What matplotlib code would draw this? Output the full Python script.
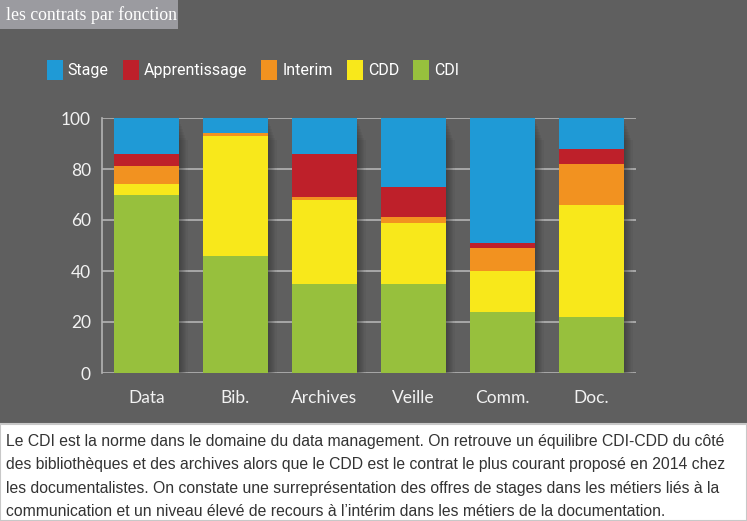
import matplotlib
matplotlib.use("Agg")
import matplotlib.pyplot as plt
from matplotlib.patches import Rectangle, Patch
import numpy as np

# Data (in %)
categories = ["Data", "Bib.", "Archives", "Veille", "Comm.", "Doc."]
series_names = ["Stage", "Apprentissage", "Interim", "CDD", "CDI"]
cdi = [70, 46, 35, 35, 24, 22]
cdd = [4, 47, 33, 24, 16, 44]
interim = [7, 1, 1, 2, 9, 16]
apprentissage = [5, 0, 17, 12, 2, 6]
stage = [14, 6, 14, 27, 49, 12]
yticks = [0, 20, 40, 60, 80, 100]

title = "les contrats par fonction"
caption = ("Le CDI est la norme dans le domaine du data management. On retrouve un équilibre CDI-CDD du côté\n"
           "des bibliothèques et des archives alors que le CDD est le contrat le plus courant proposé en 2014 chez\n"
           "les documentalistes. On constate une surreprésentation des offres de stages dans les métiers liés à la\n"
           "communication et un niveau élevé de recours à l’intérim dans les métiers de la documentation.")

colors = {"Stage": "#1f9ad6", "Apprentissage": "#be202a", "Interim": "#f29220",
          "CDD": "#f8e81b", "CDI": "#97c03d"}
bg = "#5f5f5f"

W, H = 747, 521
fig = plt.figure(figsize=(W / 100, H / 100), dpi=100, facecolor=bg)

def fx(px):
    return px / W

def fy(py):
    return 1 - py / H

# title box
fig.patches.append(Rectangle((0, fy(29)), fx(178), 29 / H, transform=fig.transFigure,
                             facecolor="#9b9ba0", edgecolor="none"))
fig.text(fx(6), fy(15), title, color="white", fontsize=12.8, family="Liberation Serif",
         va="center", ha="left")

# caption box
fig.patches.append(Rectangle((0, 0), 1, 97 / H, transform=fig.transFigure,
                             facecolor="white", edgecolor="#c8c8c8", linewidth=1.5))
fig.text(fx(6), fy(434), caption, color="#333333", fontsize=11.3, family="Liberation Sans",
         va="top", ha="left", linespacing=1.7)

# chart axes: x from 102 to 636 px, y from 118 (100) to 373 (0)
ax = fig.add_axes([fx(102), fy(373), fx(636 - 102), (373 - 118) / H])
ax.set_facecolor(bg)
x = np.arange(len(categories))
width = 0.73

# soft drop shadow behind bars
totals = np.array(cdi) + np.array(cdd) + np.array(interim) + np.array(apprentissage) + np.array(stage)
for k in range(1, 9):
    ax.bar(x + 0.012 * k, totals, width, bottom=-1.1 * k, color="#2a2a2a", alpha=0.07,
           zorder=1, linewidth=0)

bottom = np.zeros(len(categories))
stack = [("CDI", cdi), ("CDD", cdd), ("Interim", interim),
         ("Apprentissage", apprentissage), ("Stage", stage)]
for name, vals in stack:
    ax.bar(x, vals, width, bottom=bottom, color=colors[name], zorder=3, linewidth=0)
    bottom += np.array(vals)

ax.set_xlim(-0.5, 5.5)
ax.set_ylim(0, 100)
ax.set_yticks(yticks)
ax.yaxis.grid(True, color="#b4b4b4", linewidth=1.2, zorder=0)
ax.set_axisbelow(True)
for s in ["top", "right", "bottom"]:
    ax.spines[s].set_visible(False)
ax.spines["left"].set_color("#b4b4b4")
ax.spines["left"].set_linewidth(1.2)
ax.tick_params(axis="y", length=0, pad=8, labelsize=12.5, labelcolor="#f2f2f2")
ax.tick_params(axis="x", length=0, pad=12, labelsize=12.5, labelcolor="#f2f2f2")
ax.set_xticks(x)
ax.set_xticklabels(categories)
for lab in ax.get_xticklabels() + ax.get_yticklabels():
    lab.set_family("Lato")

handles = [Patch(facecolor=colors[n], edgecolor="none") for n in series_names]
leg = fig.legend(handles, series_names, loc="center", bbox_to_anchor=(fx(253), fy(70)),
                 ncol=5, frameon=False, handlelength=1.0, handleheight=1.6,
                 handletextpad=0.3, columnspacing=0.9,
                 prop={"family": "Roboto", "size": 11.5})
for t in leg.get_texts():
    t.set_color("white")

fig.savefig("out.png", dpi=100, facecolor=bg)
